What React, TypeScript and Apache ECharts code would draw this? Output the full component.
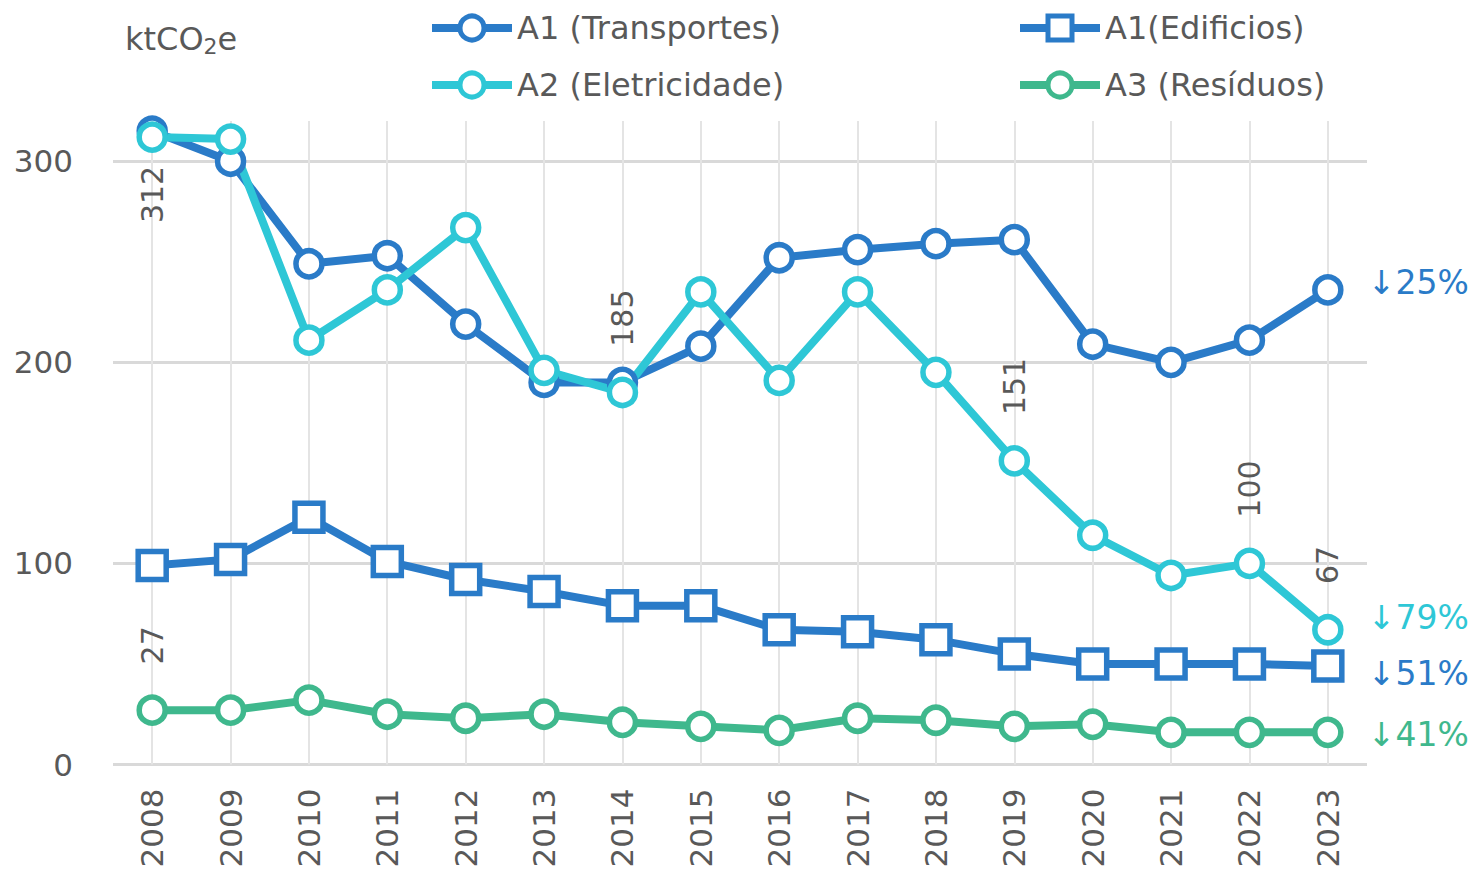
import React, { useEffect, useRef } from "react";
import * as echarts from "echarts";

const years = ["2008","2009","2010","2011","2012","2013","2014","2015","2016","2017","2018","2019","2020","2021","2022","2023"];
const transportes = [315, 300, 249, 253, 219, 190, 190, 208, 252, 256, 259, 261, 209, 200, 211, 236];
const eletricidade = [312, 311, 211, 236, 267, 196, 185, 235, 191, 235, 195, 151, 114, 94, 100, 67];
const edificios = [99, 102, 123, 101, 92, 86, 79, 79, 67, 66, 62, 55, 50, 50, 50, 49];
const residuos = [27, 27, 32, 25, 23, 25, 21, 19, 17, 23, 22, 19, 20, 16, 16, 16];
const eletLabelsTop = [6, 11, 14, 15];
const eletLabelsBottom = [0];
const resLabelsTop = [0];
const yTicks = [0, 100, 200, 300];
const endPct = { transportes: "↓25%", eletricidade: "↓79%", edificios: "↓51%", residuos: "↓41%" };

const C_T = "#2a7bc8";
const C_E = "#2ec7d6";
const C_R = "#3fb88d";
const TXT = "#595959";
const FONT = "DejaVu Sans";

export default function App() {
  const ref = useRef<HTMLDivElement>(null);
  useEffect(() => {
    if (!ref.current) return;
    const chart = echarts.init(ref.current, null, { renderer: "svg" });
    const labelTop = { show: true, position: "top", rotate: 90, align: "left", verticalAlign: "middle", distance: 30, fontSize: 30, color: TXT, fontFamily: FONT };
    const labelBottom = { show: true, position: "bottom", rotate: 90, align: "right", verticalAlign: "middle", distance: 13, fontSize: 30, color: TXT, fontFamily: FONT };
    const mk = (vals: number[], tops: number[], bottoms: number[]) =>
      vals.map((v, i) =>
        tops.includes(i) ? { value: v, label: labelTop } : bottoms.includes(i) ? { value: v, label: labelBottom } : v
      );
    const series = (name: string, color: string, data: any[], symbol: string, size: number, pct: string, offY: number) => ({
      name,
      type: "line",
      xAxisIndex: 0,
      yAxisIndex: 0,
      data,
      symbol,
      symbolSize: size,
      showAllSymbol: true,
      clip: false,
      lineStyle: { color, width: 8 },
      itemStyle: { color: "#fff", borderColor: color, borderWidth: 5.5 },
      label: { show: false },
      endLabel: { show: true, formatter: () => pct, color, fontSize: 33, fontFamily: FONT, distance: 40, offset: [0, offY] },
    });
    const legendBase = {
      orient: "vertical",
      itemWidth: 80,
      itemHeight: 30,
      itemGap: 21,
      top: 10,
      padding: 0,
      textStyle: { fontSize: 32, color: TXT, fontFamily: FONT, lineHeight: 36 },
      lineStyle: { width: 8 },
      itemStyle: { borderWidth: 5 },
      selectedMode: false,
    };
    chart.setOption({
      animation: false,
      backgroundColor: "#fff",
      textStyle: { fontFamily: FONT },
      title: {
        text: "{a|ktCO}{b|2}{a|e}",
        left: 120,
        top: 16,
        textStyle: {
          fontWeight: "normal",
          rich: {
            a: { fontSize: 32, color: TXT, fontFamily: FONT, fontWeight: "normal", lineHeight: 36 },
            b: { fontSize: 22, color: TXT, fontFamily: FONT, fontWeight: "normal", lineHeight: 22, padding: [15, 0, 0, 0], verticalAlign: "bottom" },
          },
        },
      },
      legend: [
        { ...legendBase, left: 428, data: ["A1 (Transportes)", "A2 (Eletricidade)"] },
        { ...legendBase, left: 1016, data: ["A1(Edificios)", "A3 (Resíduos)"] },
      ],
      grid: [
        { left: 113, right: 115, top: 121, bottom: 111.5 },
        { left: 152, right: 154, top: 121, bottom: 111.5 },
      ],
      xAxis: [
        {
          type: "category",
          gridIndex: 0,
          data: years,
          boundaryGap: true,
          axisLine: { show: false },
          axisTick: { show: false },
          splitLine: { show: false },
          axisLabel: { rotate: 90, margin: 24, fontSize: 31, color: TXT, fontFamily: FONT },
        },
        {
          type: "category",
          gridIndex: 1,
          data: years,
          boundaryGap: false,
          axisLine: { show: false },
          axisTick: { show: false },
          axisLabel: { show: false },
          splitLine: { show: true, lineStyle: { color: "#e4e4e4", width: 2 } },
        },
      ],
      yAxis: [
        {
          type: "value",
          gridIndex: 0,
          min: 0,
          max: 320,
          interval: 100,
          axisLine: { show: false },
          axisTick: { show: false },
          axisLabel: {
            margin: 40,
            fontSize: 31,
            color: TXT,
            fontFamily: FONT,
            showMaxLabel: false,
            formatter: (v: number) => (yTicks.includes(v) ? String(v) : ""),
          },
          splitLine: { show: true, showMaxLine: false, lineStyle: { color: "#d9d9d9", width: 3 } },
        },
        {
          type: "value",
          gridIndex: 1,
          min: 0,
          max: 320,
          show: false,
          splitLine: { show: false },
        },
      ],
      series: [
        series("A1 (Transportes)", C_T, transportes, "circle", 26, endPct.transportes, -7),
        series("A1(Edificios)", C_T, edificios, "rect", 28, endPct.edificios, 8),
        series("A2 (Eletricidade)", C_E, mk(eletricidade, eletLabelsTop, eletLabelsBottom), "circle", 26, endPct.eletricidade, -12),
        series("A3 (Resíduos)", C_R, mk(residuos, resLabelsTop, []), "circle", 26, endPct.residuos, 2),
      ],
    });
    return () => chart.dispose();
  }, []);
  return <div ref={ref} style={{ position: "fixed", left: 0, top: 0, width: 1482, height: 876 }} />;
}
